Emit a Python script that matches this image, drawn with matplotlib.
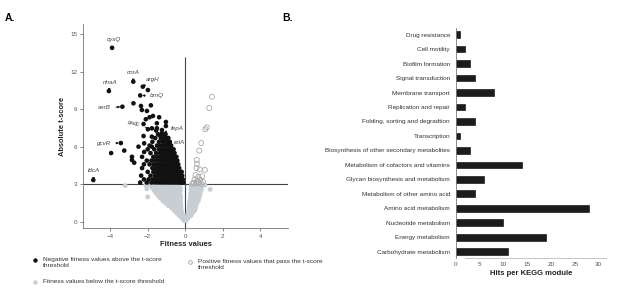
import matplotlib
matplotlib.use("Agg")
import matplotlib.pyplot as plt
from matplotlib.lines import Line2D

plt.rcParams["font.family"] = ["Liberation Sans", "DejaVu Sans"]

# ---------------- panel A data ----------------
# negative fitness values above threshold: isolated black dots
neg_x = [-3.9, -2.77, -2.26, -4.07, -2.4, -1.99, -3.35,
         -2.76, -2.36, -1.83, -2.04, -2.31, -1.72, -1.9, -2.1, -1.39,
         -1.51, -1.03, -1.03, -2.22, -1.99, -1.78, -1.51, -1.24, -1.55,
         -1.24, -2.22, -1.78, -1.37, -2.49, -2.19, -2.19, -1.78, -2.84,
         -2.84, -2.72, -3.43, -3.95, -3.25, -4.9, -0.98]
neg_y = [13.9, 11.2, 10.8, 10.45, 10.1, 10.53, 9.2,
         9.47, 9.26, 9.31, 8.86, 8.94, 8.46, 8.36, 8.2, 8.36,
         7.88, 7.98, 7.66, 7.82, 7.4, 7.48, 7.48, 7.34, 7.3,
         7.08, 6.86, 6.81, 6.94, 6.01, 6.28, 5.59, 6.01, 4.95,
         5.2, 4.73, 6.3, 5.5, 5.7, 3.35, 6.2]

# dense black cluster, one row of x values per t-score level
neg_rows_y = [7.0, 6.7, 6.4, 6.1, 5.8, 5.5, 5.2, 4.9, 4.6, 4.3, 4.0, 3.7, 3.4, 3.15]
neg_rows_x = [
    [-1.45, -1.2, -1.05],
    [-1.6, -1.3, -1.15, -1.0, -0.9],
    [-1.75, -1.4, -1.2, -1.05, -0.92, -0.82],
    [-1.9, -1.5, -1.3, -1.15, -1.0, -0.88, -0.75],
    [-2.0, -1.65, -1.4, -1.25, -1.1, -0.97, -0.85, -0.72, -0.62],
    [-1.85, -1.55, -1.35, -1.2, -1.05, -0.92, -0.8, -0.68, -0.57],
    [-2.3, -1.7, -1.5, -1.32, -1.16, -1.02, -0.9, -0.78, -0.66, -0.55, -0.47],
    [-2.05, -1.8, -1.6, -1.42, -1.26, -1.12, -0.98, -0.86, -0.74, -0.63, -0.52,
     -0.42],
    [-2.2, -1.9, -1.68, -1.5, -1.34, -1.2, -1.06, -0.93, -0.81, -0.69, -0.58,
     -0.47, -0.37],
    [-2.3, -1.75, -1.58, -1.42, -1.28, -1.14, -1.0, -0.88, -0.76, -0.64, -0.53,
     -0.42, -0.32],
    [-2.0, -1.7, -1.54, -1.38, -1.24, -1.1, -0.97, -0.84, -0.72, -0.6, -0.48,
     -0.37, -0.27, -0.19],
    [-2.35, -1.85, -1.62, -1.46, -1.31, -1.17, -1.04, -0.91, -0.79, -0.67, -0.55,
     -0.44, -0.33, -0.24, -0.16],
    [-2.2, -1.95, -1.72, -1.55, -1.4, -1.26, -1.12, -0.99, -0.86, -0.74, -0.62,
     -0.5, -0.39, -0.29, -0.2, -0.13],
    [-2.4, -2.05, -1.8, -1.62, -1.46, -1.32, -1.18, -1.05, -0.92, -0.8, -0.68,
     -0.56, -0.45, -0.35, -0.25, -0.17, -0.1],
]

# fitness values below threshold: grey V-shaped cloud, rows by t-score
grey_rows_y = [2.9, 2.7, 2.5, 2.3, 2.1, 1.9, 1.7, 1.5, 1.3, 1.1, 0.9, 0.7, 0.5,
               0.3, 0.1]
grey_rows_x = [
    [-1.85, -1.71, -1.57, -1.43, -1.29, -1.15, -1.01, -0.87, -0.73, -0.59, -0.45,
     -0.32, 0.33, 0.47, 0.61, 0.75, 0.9],
    [-1.75, -1.61, -1.47, -1.33, -1.19, -1.05, -0.91, -0.77, -0.63, -0.49, -0.35,
     -0.26, 0.32, 0.46, 0.6, 0.74, 0.87],
    [-1.65, -1.51, -1.37, -1.23, -1.09, -0.95, -0.81, -0.67, -0.53, -0.39, -0.26,
     0.31, 0.45, 0.59, 0.72, 0.85],
    [-1.55, -1.41, -1.27, -1.13, -0.99, -0.85, -0.71, -0.57, -0.43, -0.3,
     0.3, 0.44, 0.58, 0.7, 0.8],
    [-1.45, -1.31, -1.17, -1.03, -0.89, -0.75, -0.61, -0.47, -0.33, -0.25,
     0.28, 0.42, 0.56, 0.68, 0.78],
    [-1.33, -1.19, -1.05, -0.91, -0.77, -0.63, -0.49, -0.35, -0.25,
     0.27, 0.4, 0.53, 0.65, 0.73],
    [-1.2, -1.06, -0.92, -0.78, -0.64, -0.5, -0.36, -0.25,
     0.25, 0.38, 0.51, 0.63, 0.7],
    [-1.05, -0.91, -0.77, -0.63, -0.49, -0.35, -0.24, 0.23, 0.36, 0.49, 0.62],
    [-0.9, -0.76, -0.62, -0.48, -0.34, -0.23, 0.22, 0.35, 0.47, 0.58],
    [-0.72, -0.58, -0.44, -0.3, -0.22, 0.2, 0.33, 0.45, 0.55],
    [-0.58, -0.45, -0.32, -0.2, 0.18, 0.3, 0.42, 0.5],
    [-0.45, -0.32, -0.19, 0.15, 0.27, 0.38],
    [-0.32, -0.2, -0.1, 0.12, 0.22, 0.3],
    [-0.18, -0.07, 0.06, 0.15],
    [-0.06, 0.03],
]
grey_extra_x = [-3.2, -2.05, -2.0, 1.33, 1.05, -2.1]
grey_extra_y = [2.9, 2.65, 2.0, 2.6, 2.95, 2.95]

# positive fitness values that pass the threshold (hollow circles)
pos_x = [1.42, 1.28, 1.15, 1.07, 0.85, 0.75, 0.62, 0.62, 0.6, 0.78, 1.05,
         0.55, 0.7, 0.9, 0.5, 0.65, 0.8, 0.45, 0.58, 0.72, 0.85, 0.95, 0.38]
pos_y = [10.0, 9.1, 7.55, 7.4, 6.3, 5.7, 4.95, 4.65, 4.3, 4.2, 4.15,
         3.75, 3.6, 3.65, 3.4, 3.3, 3.35, 3.15, 3.1, 3.15, 3.05, 3.2, 3.05]

# gene labels: name, point, label position
gene_names = ["cysQ", "corA", "nhaA", "argH", "brnQ", "serB", "galE",
              "fepA", "relA", "gcvR", "ldcA"]
gene_pts = [(-3.9, 13.9), (-2.77, 11.2), (-4.07, 10.45), (-2.26, 10.8),
            (-2.4, 10.1), (-3.35, 9.2), (-1.55, 7.3), (-1.24, 7.08),
            (-0.98, 6.2), (-3.43, 6.3), (-4.9, 3.35)]
gene_txt = [(-3.82, 14.6), (-2.76, 11.95), (-4.0, 11.1), (-1.72, 11.35),
            (-1.5, 10.06), (-4.3, 9.1), (-2.75, 7.85), (-0.4, 7.5),
            (-0.3, 6.38), (-4.3, 6.3), (-4.85, 4.1)]
gene_arrow = [False, True, True, True, True, True, True, True, True, True, True]

# ---------------- panel B data ----------------
modules = ["Carbohydrate metabolism", "Energy metabolism", "Nucleotide metabolism",
           "Amino acid metabolism", "Metabolism of other amino acid",
           "Glycan biosynthesis and metabolism",
           "Metabolism of cofactors and vitamins",
           "Biosynthesis of other secondary metabolites", "Transcription",
           "Folding, sorting and degradtion", "Replication and repair",
           "Membrane transport", "Signal transduction", "Biofilm formation",
           "Cell motility", "Drug resistance"]
hits = [11, 19, 10, 28, 4, 6, 14, 3, 1, 4, 2, 8, 4, 3, 2, 1]

TICK_C = "#555555"
TXT_C = "#333333"
GREY = "#c8cfd4"


def flatten_rows(rows_y, rows_x):
    xs, ys = [], []
    for y, row in zip(rows_y, rows_x):
        xs += row
        ys += [y] * len(row)
    return xs, ys


clu_x, clu_y = flatten_rows(neg_rows_y, neg_rows_x)
gx, gy = flatten_rows(grey_rows_y, grey_rows_x)

fig = plt.figure(figsize=(6.17, 2.91), dpi=100)

# ---------------- panel A ----------------
axA = fig.add_axes([0.1345, 0.2165, 0.3323, 0.701])
axA.scatter(gx + grey_extra_x, gy + grey_extra_y, s=12, color=GREY,
            edgecolors="none", zorder=2)
axA.scatter(pos_x, pos_y, s=13, facecolors="none", edgecolors="#a8a8a8",
            linewidths=0.6, zorder=3)
axA.scatter(neg_x + clu_x, neg_y + clu_y, s=11, color="#111111",
            edgecolors="none", zorder=4)
axA.axhline(3, color="#444444", lw=0.8, zorder=1)
axA.vlines(0, -0.48, 13.2, color="#444444", lw=0.8, zorder=1)

for name, p, t, arr in zip(gene_names, gene_pts, gene_txt, gene_arrow):
    rot = -18 if name == "galE" else 0
    if arr:
        axA.annotate(name, xy=p, xytext=t, fontsize=4.5, style="italic",
                     color="#444444", ha="center", va="center", rotation=rot,
                     arrowprops=dict(arrowstyle="-|>", color="#111111", lw=0.6,
                                     mutation_scale=3, shrinkA=1.5, shrinkB=1.5),
                     zorder=5)
    else:
        axA.text(t[0], t[1], name, fontsize=4.5, style="italic",
                 color="#444444", ha="center", va="center", zorder=5)

axA.set_xlim(-5.45, 5.48)
axA.set_ylim(-0.48, 15.8)
axA.set_xticks([-4, -2, 0, 2, 4])
axA.set_yticks([0, 3, 6, 9, 12, 15])
axA.tick_params(labelsize=4.5, colors=TICK_C, length=2, width=0.5, pad=2)
for s in ["top", "right"]:
    axA.spines[s].set_visible(False)
for s in ["left", "bottom"]:
    axA.spines[s].set_color("#777777")
    axA.spines[s].set_linewidth(0.6)
axA.set_xlabel("Fitness values", fontsize=5.4, fontweight="bold", color="#222222",
               labelpad=2)
axA.set_ylabel("Absolute t-score", fontsize=5.4, fontweight="bold", color="#222222",
               labelpad=3)

# legend below panel A
leg_items = [
    (0.057, 0.107, dict(marker="o", ms=2.2, color="#111111", ls="none"),
     "Negative fitness values above the t-score\nthreshold"),
    (0.057, 0.031, dict(marker="o", ms=2.2, color=GREY, ls="none"),
     "Fitness values below the t-score threshold"),
    (0.308, 0.1, dict(marker="o", ms=2.6, mfc="none", mec="#a0a0a0", mew=0.6,
                      ls="none"),
     "Positive fitness values that pass the t-score\nthreshold"),
]
for x, y, style, label in leg_items:
    fig.add_artist(Line2D([x], [y], transform=fig.transFigure, **style))
    fig.text(x + 0.013, y + 0.01, label, fontsize=4.65, color=TXT_C,
             ha="left", va="top", linespacing=1.2)

# ---------------- panel B ----------------
axB = fig.add_axes([0.7385, 0.1134, 0.2435, 0.7904])
pos = list(range(len(modules)))
axB.barh(pos, hits, height=0.46, color="#1c1c1c", edgecolor="#000000",
         linewidth=0.4)
axB.set_yticks(pos)
axB.set_yticklabels(modules)
axB.set_ylim(-0.435, 15.46)
axB.set_xlim(0, 31.5)
axB.set_xticks([0, 5, 10, 15, 20, 25, 30])
axB.tick_params(axis="y", length=0, labelsize=4.6, colors=TXT_C, pad=4)
axB.tick_params(axis="x", length=0, labelsize=4.6, colors=TICK_C, pad=3)
for s in ["top", "right"]:
    axB.spines[s].set_visible(False)
axB.spines["left"].set_color("#777777")
axB.spines["left"].set_linewidth(0.6)
axB.spines["bottom"].set_color("#bbbbbb")
axB.spines["bottom"].set_linewidth(0.6)
axB.spines["bottom"].set_bounds(2, 31.5)
axB.set_xlabel("Hits per KEGG module", fontsize=5.5, fontweight="bold",
               color="#222222", labelpad=2)

# panel letters
fig.text(0.008, 0.955, "A.", fontsize=7.5, fontweight="bold", ha="left", va="top")
fig.text(0.458, 0.955, "B.", fontsize=7.5, fontweight="bold", ha="left", va="top")

fig.savefig("out.png", dpi=100)
